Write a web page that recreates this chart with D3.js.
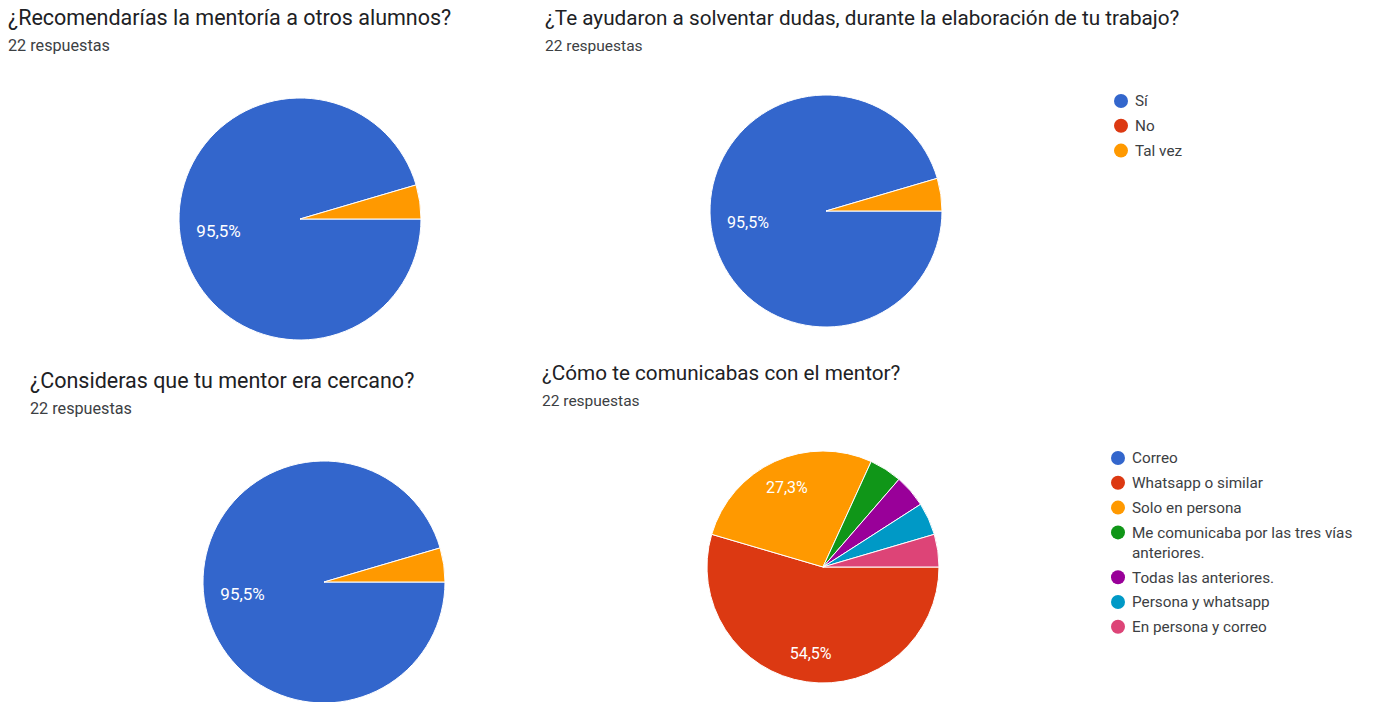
<!DOCTYPE html>
<html>
<head>
<meta charset="utf-8">
<script src="https://cdn.jsdelivr.net/npm/d3@7"></script>
<style>
  body { margin: 0; background: #fff; }
  text { font-family: Roboto, "Noto Sans", sans-serif; }
</style>
</head>
<body>
<script>
// data
var titles = [
  "¿Recomendarías la mentoría a otros alumnos?",
  "¿Te ayudaron a solventar dudas, durante la elaboración de tu trabajo?",
  "¿Consideras que tu mentor era cercano?",
  "¿Cómo te comunicabas con el mentor?"
];
var respuestas = [22, 22, 22, 22];

var siNoLabels = ["Sí", "No", "Tal vez"];
var recomendarias = [21, 0, 1];
var ayudaron = [21, 0, 1];
var cercano = [21, 0, 1];

var comunicacionLabels = [
  "Correo",
  "Whatsapp o similar",
  "Solo en persona",
  "Me comunicaba por las tres vías|anteriores.",
  "Todas las anteriores.",
  "Persona y whatsapp",
  "En persona y correo"
];
var comunicacion = [0, 12, 6, 1, 1, 1, 1];

var colors = ["#3366cc", "#dc3912", "#ff9900", "#109618", "#990099", "#0099c6", "#dd4477"];

var W = 1373, H = 702;
var svg = d3.select("body").append("svg")
    .attr("width", W)
    .attr("height", H);

// one panel per question (left column screenshots are a bit wider)
var panels = [
  {title: titles[0], n: respuestas[0], values: recomendarias, labels: siNoLabels, tx: 8, ty: 25, cx: 300, cy: 219, r: 121, fT: 21.5, fS: 16.2, fL: 17, legend: null},
  {title: titles[1], n: respuestas[1], values: ayudaron, labels: siNoLabels, tx: 545, ty: 25, cx: 826, cy: 211, r: 116, fT: 20.7, fS: 15.5, fL: 16, legend: {x: 1121, y: 101}},
  {title: titles[2], n: respuestas[2], values: cercano, labels: siNoLabels, tx: 30, ty: 388, cx: 324, cy: 582, r: 121, fT: 21.5, fS: 16.2, fL: 17, legend: null},
  {title: titles[3], n: respuestas[3], values: comunicacion, labels: comunicacionLabels, tx: 542, ty: 380, cx: 823, cy: 567, r: 116, fT: 20.7, fS: 15.5, fL: 16, legend: {x: 1118, y: 458}}
];

var pie = d3.pie()
    .sort(null)
    .startAngle(Math.PI / 2)
    .endAngle(Math.PI / 2 + 2 * Math.PI);

var fmt = function(v) { return d3.format(".1f")(v).replace(".", ",") + "%"; };

panels.forEach(function(p) {
  // title and count
  svg.append("text")
      .attr("x", p.tx)
      .attr("y", p.ty)
      .style("font-size", p.fT + "px")
      .style("fill", "#202124")
      .text(p.title);
  svg.append("text")
      .attr("x", p.tx)
      .attr("y", p.ty + 26)
      .style("font-size", p.fS + "px")
      .style("fill", "#3c4043")
      .text(p.n + " respuestas");

  var total = d3.sum(p.values);
  var arcs = pie(p.values);
  var arc = d3.arc().innerRadius(0).outerRadius(p.r);

  var g = svg.append("g")
      .attr("transform", "translate(" + p.cx + "," + p.cy + ")");

  g.selectAll("path")
      .data(arcs.filter(function(d) { return d.value > 0; }))
      .enter()
      .append("path")
      .attr("d", arc)
      .attr("fill", function(d) { return colors[d.index]; })
      .attr("stroke", "#fff")
      .attr("stroke-width", 1);

  // only big slices get a percentage
  g.selectAll("text")
      .data(arcs.filter(function(d) { return d.value / total > 0.05; }))
      .enter()
      .append("text")
      .attr("transform", function(d) {
        var lr = (d.value / total > 0.9 ? 0.68 : 0.75) * p.r;
        var c = d3.arc().innerRadius(lr).outerRadius(lr).centroid(d);
        return "translate(" + c + ")";
      })
      .attr("dy", ".35em")
      .style("text-anchor", "middle")
      .style("font-size", p.fL + "px")
      .style("fill", "#fff")
      .text(function(d) { return fmt(d.value / total * 100); });

  if (p.legend) {
    var ly = p.legend.y;
    p.labels.forEach(function(lab, i) {
      var lines = lab.split("|");
      svg.append("circle")
          .attr("cx", p.legend.x)
          .attr("cy", ly)
          .attr("r", 7)
          .attr("fill", colors[i]);
      lines.forEach(function(line, j) {
        svg.append("text")
            .attr("x", p.legend.x + 14)
            .attr("y", ly + j * 20)
            .attr("dy", ".35em")
            .style("font-size", "15.3px")
            .style("fill", "#3c4043")
            .text(line);
      });
      ly += 24.8 + (lines.length - 1) * 20;
    });
  }
});
</script>
</body>
</html>
